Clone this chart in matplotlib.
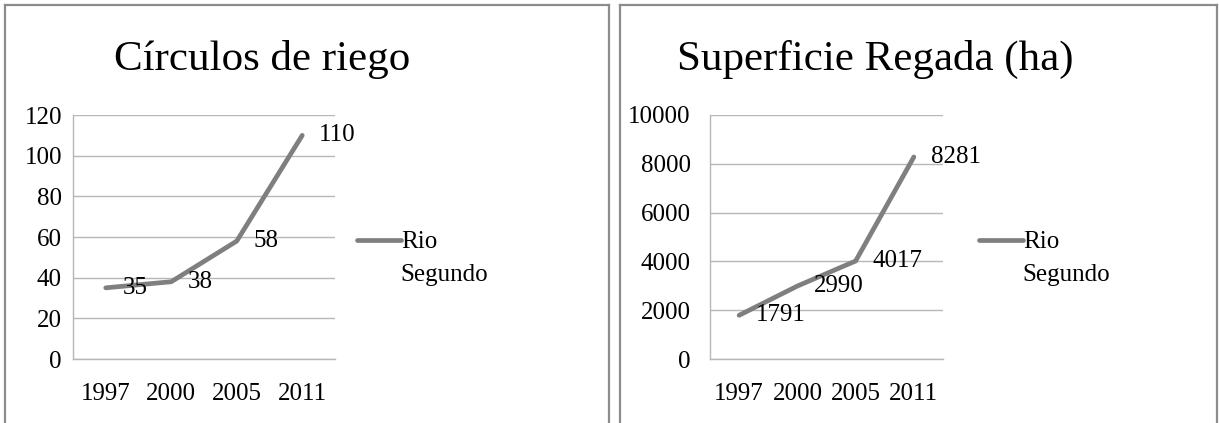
import numpy as np
import matplotlib.pyplot as plt
from matplotlib.lines import Line2D
from matplotlib.legend_handler import HandlerLine2D

plt.rcParams['font.family'] = ['Liberation Serif', 'DejaVu Serif']

years = ['1997', '2000', '2005', '2011']
circulos = [35, 38, 58, 110]
superficie = [1791, 2990, 4017, 8281]
serie = 'Rio\nSegundo'

W, H = 1219, 423
fig = plt.figure(figsize=(W / 100, H / 100), dpi=100)

gris = '#7f7f7f'
grid = '#b7b7b7'
fs = 18


class FirstLineHandler(HandlerLine2D):
    # put the legend line next to the first line of a two-line label
    def create_artists(self, legend, orig, xdescent, ydescent, width, height,
                       fontsize, trans):
        arts = super().create_artists(legend, orig, xdescent, ydescent, width,
                                      height, fontsize, trans)
        for a in arts:
            a.set_ydata(np.asarray(a.get_ydata()) + 13)
        return arts


def box(x0, x1, y0):
    # panel border (bottom edge is outside the picture)
    kw = dict(color='#8c8c8c', lw=1.6, transform=fig.transFigure)
    fig.add_artist(Line2D([x0 / W, x0 / W], [0, 1 - y0 / H], **kw))
    fig.add_artist(Line2D([x1 / W, x1 / W], [0, 1 - y0 / H], **kw))
    fig.add_artist(Line2D([x0 / W, x1 / W], [1 - y0 / H, 1 - y0 / H], **kw))


def panel(px0, px1, vals, ymax, step, title, title_x, ypad, leg_x):
    ax = fig.add_axes([px0 / W, (H - 359) / H, (px1 - px0) / W, 244 / H])
    x = range(len(vals))
    line, = ax.plot(x, vals, color=gris, lw=3.4, solid_capstyle='round', label=serie)
    for i, v in zip(x, vals):
        ax.annotate(str(v), (i, v), xytext=(12, 0), textcoords='offset points',
                    va='center', ha='left', fontsize=fs)
    ax.set_xlim(-0.5, len(vals) - 0.5)
    ax.set_ylim(0, ymax)
    ax.set_yticks(range(0, ymax + 1, step))
    ax.set_xticks(list(x))
    ax.set_xticklabels(years)
    ax.tick_params(length=0, labelsize=fs)
    ax.tick_params(axis='y', pad=ypad)
    ax.tick_params(axis='x', pad=17)
    ax.grid(axis='y', color=grid, lw=1)
    ax.set_axisbelow(True)
    for s in ['top', 'right']:
        ax.spines[s].set_visible(False)
    for s in ['left', 'bottom']:
        ax.spines[s].set_color(grid)
        ax.spines[s].set_linewidth(1)
    fig.text(title_x / W, 1 - 70 / H, title, ha='center', va='baseline', fontsize=31)
    leg = ax.legend(loc='upper left', bbox_to_anchor=(leg_x / W, 1 - 231 / H),
                    bbox_transform=fig.transFigure, frameon=False, fontsize=fs,
                    handlelength=1.75, handletextpad=0.0, borderpad=0,
                    borderaxespad=0, handler_map={line: FirstLineHandler()})
    for t in leg.get_texts():
        t.set_linespacing(1.65)
    return ax


box(5, 609, 5)
box(620, 1217, 5)

panel(73, 335, circulos, 120, 20, 'Círculos de riego', 262, 8, 357)
panel(710, 943, superficie, 10000, 2000, 'Superficie Regada (ha)', 875, 14, 979)

fig.savefig('out.png', dpi=100)
